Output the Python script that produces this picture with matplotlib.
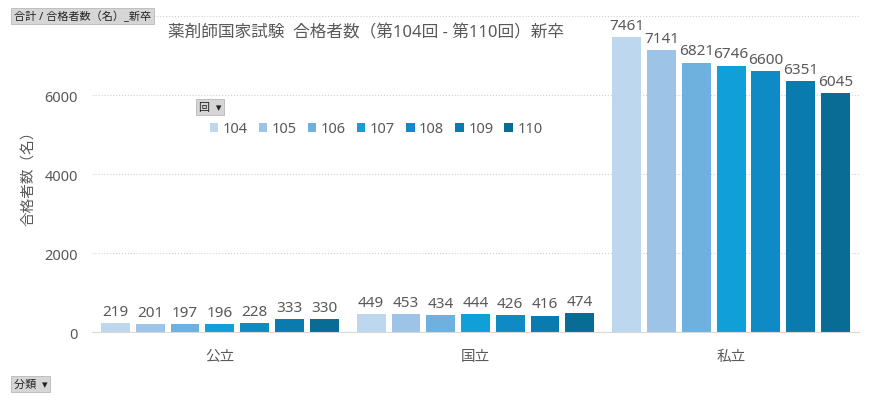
import matplotlib.pyplot as plt
import numpy as np

plt.rcParams['font.family'] = ['Noto Sans', 'Noto Sans CJK JP', 'DejaVu Sans']

categories = ['公立', '国立', '私立']
rounds = ['104', '105', '106', '107', '108', '109', '110']
passed = {
    '104': [219, 449, 7461],
    '105': [201, 453, 7141],
    '106': [197, 434, 6821],
    '107': [196, 444, 6746],
    '108': [228, 426, 6600],
    '109': [333, 416, 6351],
    '110': [330, 474, 6045],
}
colors = ['#bdd7ee', '#9dc3e6', '#6fb1de', '#109fd6', '#0e8bc4', '#0a7baf', '#086c94']
y_ticks = [0, 2000, 4000, 6000, 8000]

text_color = '#595959'

fig = plt.figure(figsize=(8.76, 4.02), dpi=100)
ax = fig.add_axes([0.105, 0.1716, 0.8756, 0.7861])

x = np.arange(len(categories))
step = 0.136
width = 0.113
for i, r in enumerate(rounds):
    offset = (i - 3) * step
    bars = ax.bar(x + offset, passed[r], width, color=colors[i], label=r, zorder=2)
    ax.bar_label(bars, padding=3, fontsize=11, color=text_color)

ax.set_xlim(-0.5, 2.5)
ax.set_ylim(0, 8000)
ax.set_yticks(y_ticks)
# the top label sits under the field button in the reference
ax.set_yticklabels([str(v) for v in y_ticks[:-1]] + [''])
ax.set_xticks(x)
ax.set_xticklabels(categories)
ax.tick_params(axis='both', length=0, colors=text_color, labelsize=10.5)
ax.tick_params(axis='x', pad=12, labelsize=10.5)
ax.tick_params(axis='y', pad=10)
ax.grid(axis='y', linestyle=':', color='#d0d0d0', linewidth=0.8, zorder=0)
for s in ['top', 'right', 'left']:
    ax.spines[s].set_visible(False)
ax.spines['bottom'].set_color('#d9d9d9')
ax.set_ylabel('合格者数（名）', color=text_color, fontsize=10.5, labelpad=6)

fig.text(366 / 876, 1 - 33 / 402, '薬剤師国家試験  合格者数（第104回 - 第110回）新卒',
         ha='center', va='center', fontsize=12, color=text_color)

ax.legend(ncol=7, frameon=False, loc='center', bbox_to_anchor=(376 / 876, 1 - 130 / 402),
          bbox_transform=fig.transFigure, fontsize=10.5, handlelength=0.6, handleheight=0.6,
          handletextpad=0.3, columnspacing=0.75, labelcolor=text_color)

button = dict(boxstyle='square,pad=0.25', facecolor='#d6d6d6', edgecolor='#b8b8b8', linewidth=0.6)
fig.text(14 / 876, 1 - 17 / 402, '合計 / 合格者数（名）_新卒', ha='left', va='center',
         fontsize=8, color='#222222', bbox=button)
fig.text(14 / 876, 1 - 385 / 402, '分類  ▾', ha='left', va='center',
         fontsize=8, color='#222222', bbox=button)
fig.text(199 / 876, 1 - 108 / 402, '回  ▾', ha='left', va='center',
         fontsize=8, color='#222222', bbox=button)

fig.savefig('out.png', dpi=100)
